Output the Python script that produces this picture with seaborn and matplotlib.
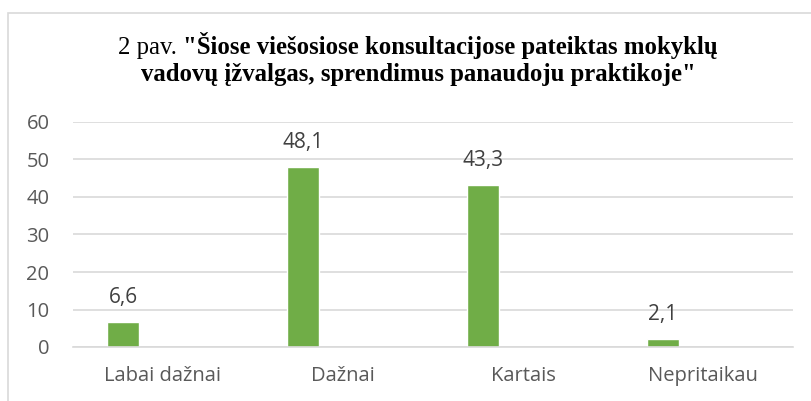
import matplotlib
matplotlib.use("Agg")
import matplotlib.pyplot as plt
import matplotlib.patches as mpatches
import seaborn as sns
import pandas as pd

categories = ["Labai dažnai", "Dažnai", "Kartais", "Nepritaikau"]
values = [6.6, 48.1, 43.3, 2.1]
yticks = [0, 10, 20, 30, 40, 50, 60]

title_plain = '2 pav. '
title_bold1 = '"Šiose viešosiose konsultacijose pateiktas mokyklų'
title_bold2 = 'vadovų įžvalgas, sprendimus panaudoju praktikoje"'

df = pd.DataFrame({"cat": categories, "val": values})

sns.set_theme(style="white")
plt.rcParams['font.family'] = ['Open Sans', 'DejaVu Sans']

W, H = 812, 401
fig = plt.figure(figsize=(W / 100, H / 100), dpi=100)
fig.patch.set_facecolor("white")

# chart outline (only top and left edges visible in the crop)
fig.add_artist(mpatches.Rectangle((8 / W, -0.1), 1.2, (H - 13) / H + 0.1,
                                  transform=fig.transFigure, fill=False,
                                  edgecolor="#d9d9d9", linewidth=1.2))

ax = fig.add_axes([73 / W, 54 / H, 720 / W, 225 / H])
sns.barplot(data=df, x="cat", y="val", color="#70ad47", width=0.178,
            saturation=1, ax=ax)

# excel-style offset of the single series to the left of each category
for p in ax.patches:
    p.set_x(p.get_x() - 0.222)

for p, v in zip(ax.patches, values):
    ax.annotate(f"{v:.1f}".replace(".", ","),
                (p.get_x() + p.get_width() / 2, p.get_height()),
                xytext=(0, 10), textcoords="offset points",
                ha="center", va="bottom", fontsize=15, color="#404040")

ax.set_xlim(-0.5, 3.5)
ax.set_ylim(0, 60)
ax.set_yticks(yticks)
ax.set_yticklabels([str(t) for t in yticks])
ax.yaxis.grid(True, color="#d9d9d9", linewidth=1.2)
ax.set_axisbelow(True)
for s in ["top", "right", "left"]:
    ax.spines[s].set_visible(False)
ax.spines["bottom"].set_color("#d9d9d9")
ax.spines["bottom"].set_linewidth(1.2)
ax.tick_params(axis="both", length=0, labelsize=14.5, labelcolor="#595959")
ax.tick_params(axis="y", pad=17)
ax.tick_params(axis="x", pad=14)
ax.set_xlabel("")
ax.set_ylabel("")

# title: plain prefix + bold text, centered as one line
cx = 418 / W
y1 = 1 - 54 / H
y2 = 1 - 81 / H
tfont = ['Liberation Serif', 'DejaVu Serif']
tsize = 17.8
t1 = fig.text(0, y1, title_plain, fontsize=tsize, family=tfont, color="black",
              ha="left", va="baseline")
t2 = fig.text(0, y1, title_bold1, fontsize=tsize, family=tfont, color="black",
              weight="bold", ha="left", va="baseline")
fig.text(cx, y2, title_bold2, fontsize=tsize, family=tfont, color="black",
         weight="bold", ha="center", va="baseline")
r = fig.canvas.get_renderer()
w1 = t1.get_window_extent(r).width
w2 = t2.get_window_extent(r).width
x0 = cx * W - (w1 + w2) / 2
t1.set_x(x0 / W)
t2.set_x((x0 + w1) / W)

plt.savefig("out.png", dpi=100)
